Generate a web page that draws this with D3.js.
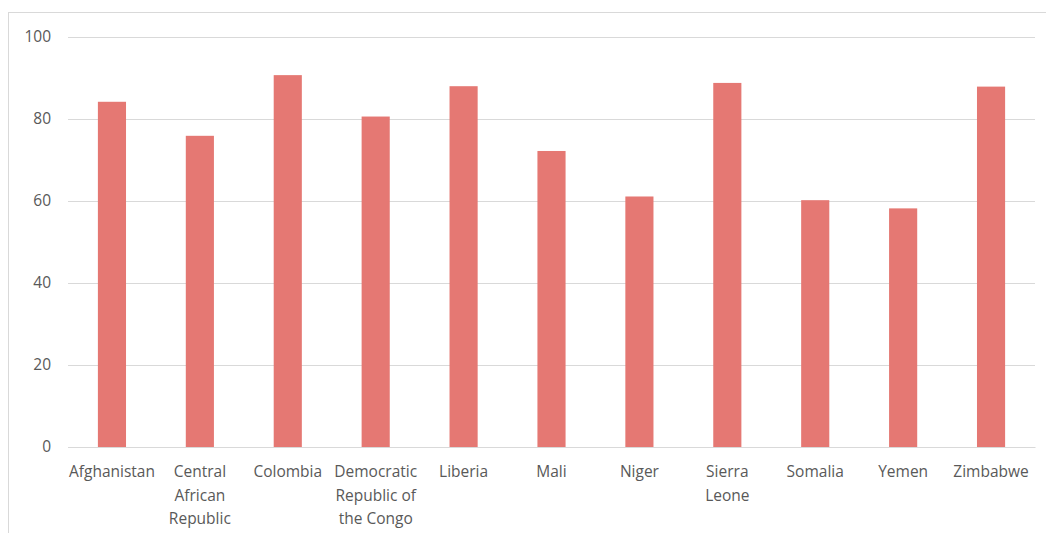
<!DOCTYPE html>
<html lang="en">
<head>
  <meta charset="UTF-8">
  <title>Bar chart</title>
  <script src="https://d3js.org/d3.v7.min.js"></script>
  <style>
    body { margin: 0; background: #fff; font-family: "Open Sans", sans-serif; }
    svg { display: block; }
    .tick text { fill: #595959; font-size: 15.5px; font-family: "Open Sans", sans-serif; }
    .grid line { stroke: #d9d9d9; stroke-width: 1px; }
  </style>
</head>
<body>
  <svg id="chart" width="1046" height="533"></svg>

  <script>
    const categories = ["Afghanistan", "Central African Republic", "Colombia", "Democratic Republic of the Congo",
      "Liberia", "Mali", "Niger", "Sierra Leone", "Somalia", "Yemen", "Zimbabwe"];
    const labelLines = [["Afghanistan"], ["Central", "African", "Republic"], ["Colombia"],
      ["Democratic", "Republic of", "the Congo"], ["Liberia"], ["Mali"], ["Niger"], ["Sierra", "Leone"],
      ["Somalia"], ["Yemen"], ["Zimbabwe"]];
    const values = [84.2, 75.9, 90.7, 80.6, 88.0, 72.2, 61.1, 88.8, 60.2, 58.2, 87.9];
    const yTicks = [0, 20, 40, 60, 80, 100];

    const width = 1046, height = 533;
    const svg = d3.select("#chart");

    // chart frame
    svg.append("rect")
      .attr("x", 8.5).attr("y", 12.5)
      .attr("width", width).attr("height", height)
      .attr("fill", "none").attr("stroke", "#d9d9d9");

    const x = d3.scaleBand().domain(categories).range([68, 1035]).paddingInner(0.68).paddingOuter(0.34);
    const y = d3.scaleLinear().domain([0, 100]).range([447, 37]);

    // gridlines
    svg.append("g").attr("class", "grid")
      .selectAll("line").data(yTicks).join("line")
      .attr("x1", 68).attr("x2", 1035)
      .attr("y1", d => Math.round(y(d)) + 0.5).attr("y2", d => Math.round(y(d)) + 0.5);

    // y axis labels
    const yAxis = svg.append("g")
      .attr("transform", "translate(68,0)")
      .call(d3.axisLeft(y).tickValues(yTicks).tickSize(0).tickPadding(17));
    yAxis.select(".domain").remove();

    // bars
    svg.append("g").selectAll("rect").data(values).join("rect")
      .attr("x", (d, i) => x(categories[i]))
      .attr("y", d => y(d))
      .attr("width", x.bandwidth())
      .attr("height", d => y(0) - y(d))
      .attr("fill", "#e57873");

    // x axis labels, wrapped
    const xAxis = svg.append("g")
      .attr("transform", `translate(0,${y(0)})`)
      .call(d3.axisBottom(x).tickSize(0).tickPadding(0).tickFormat(""));
    xAxis.select(".domain").attr("stroke", "#d9d9d9");
    xAxis.selectAll(".tick text").each(function(d) {
      const i = categories.indexOf(d);
      const t = d3.select(this).attr("y", 0).attr("dy", null);
      labelLines[i].forEach((line, k) => {
        t.append("tspan").attr("x", 0).attr("y", 30 + k * 23.5).text(line);
      });
    });
  </script>
</body>
</html>
